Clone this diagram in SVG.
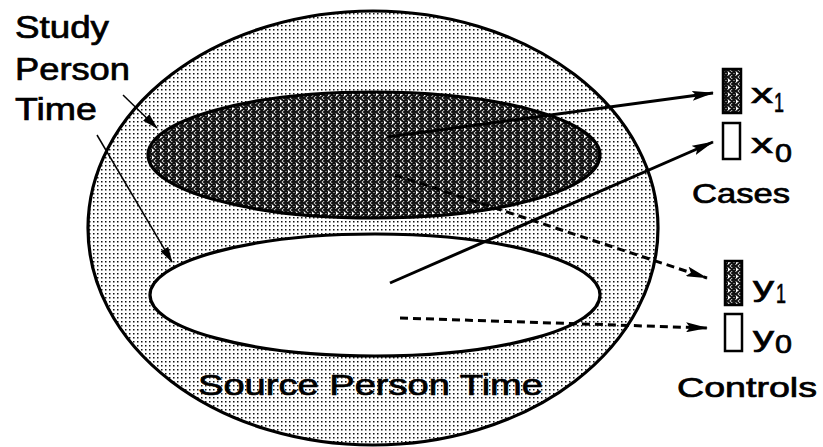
<svg xmlns="http://www.w3.org/2000/svg" width="823" height="447" viewBox="0 0 823 447">
<defs>
<pattern id="dots" width="4" height="4" patternUnits="userSpaceOnUse">
<rect width="4" height="4" fill="#fff"/>
<rect x="1" y="1" width="1.5" height="1.5" fill="#111"/>
</pattern>
<pattern id="hatch" width="8" height="7" patternUnits="userSpaceOnUse">
<rect width="8" height="7" fill="#fff"/>
<path d="M0,0 L8,7 M0,7 L8,0 M-4,3.5 L0,7 M4,0 L8,3.5 M-4,3.5 L0,0 M8,3.5 L4,7 M4,7 L8,10.5 M4,0 L8,-3.5 M0,-3.5 L4,0 M0,10.5 L4,7" stroke="#111" stroke-width="2" fill="none"/>
</pattern>
<marker id="bigHead" markerUnits="userSpaceOnUse" viewBox="0 0 22 10" refX="21" refY="5" markerWidth="22" markerHeight="10" orient="auto">
<path d="M0,0 L22,5 L0,10 L4,5 Z" fill="#000"/>
</marker>
<marker id="smallHead" markerUnits="userSpaceOnUse" viewBox="0 0 16 9" refX="15" refY="4.5" markerWidth="16" markerHeight="9" orient="auto">
<path d="M0,0 L16,4.5 L0,9 Z" fill="#000"/>
</marker>
</defs>
<style>
.lbl{font-family:"Liberation Sans",Arial,sans-serif;fill:#000;stroke:#000;stroke-width:0.7;}
.outline{stroke:#000;stroke-width:3.2;}
.solid{stroke:#000;stroke-width:3;fill:none;}
.dash{stroke:#000;stroke-width:3;fill:none;stroke-dasharray:8 5;}
.thin{stroke:#000;stroke-width:1.5;fill:none;}
.box{stroke:#000;stroke-width:2.5;}
</style>
<rect width="823" height="447" fill="#fff"/>
<g id="source-person-time">
<ellipse cx="373" cy="228" rx="285" ry="217" fill="url(#dots)" class="outline"/>
<text class="lbl" x="198" y="395" font-size="30" textLength="345" lengthAdjust="spacingAndGlyphs">Source Person Time</text>
</g>
<g id="exposed-person-time">
<ellipse cx="374" cy="155" rx="226" ry="63" fill="url(#hatch)" class="outline"/>
</g>
<g id="unexposed-person-time">
<ellipse cx="375" cy="295" rx="225" ry="61" fill="#fff" class="outline"/>
</g>
<g id="study-label">
<text class="lbl" x="15" y="38" font-size="31" textLength="94" lengthAdjust="spacingAndGlyphs">Study</text>
<text class="lbl" x="15" y="80" font-size="31" textLength="115" lengthAdjust="spacingAndGlyphs">Person</text>
<text class="lbl" x="15" y="120" font-size="31" textLength="82" lengthAdjust="spacingAndGlyphs">Time</text>
</g>
<g id="cases">
<rect x="723" y="69" width="18" height="44" fill="url(#hatch)" class="box"/>
<text class="lbl" x="751" y="103" font-size="28" textLength="22" lengthAdjust="spacingAndGlyphs">x</text>
<text class="lbl" x="774" y="112" font-size="28" textLength="10" lengthAdjust="spacingAndGlyphs">1</text>
<rect x="723" y="123" width="17" height="36" fill="#fff" class="box"/>
<text class="lbl" x="751" y="153" font-size="28" textLength="22" lengthAdjust="spacingAndGlyphs">x</text>
<text class="lbl" x="775" y="162" font-size="26" textLength="17" lengthAdjust="spacingAndGlyphs">0</text>
<text class="lbl" x="692" y="203" font-size="28" textLength="98" lengthAdjust="spacingAndGlyphs">Cases</text>
</g>
<g id="controls">
<rect x="725" y="261" width="17" height="44" fill="url(#hatch)" class="box"/>
<text class="lbl" x="753" y="296" font-size="28" textLength="21" lengthAdjust="spacingAndGlyphs">y</text>
<text class="lbl" x="776" y="303" font-size="28" textLength="10" lengthAdjust="spacingAndGlyphs">1</text>
<rect x="725" y="314" width="17" height="37" fill="#fff" class="box"/>
<text class="lbl" x="753" y="346" font-size="28" textLength="21" lengthAdjust="spacingAndGlyphs">y</text>
<text class="lbl" x="775" y="353" font-size="26" textLength="17" lengthAdjust="spacingAndGlyphs">0</text>
<text class="lbl" x="677" y="397" font-size="28" textLength="140" lengthAdjust="spacingAndGlyphs">Controls</text>
</g>
<g id="connectors">
<line x1="387" y1="137" x2="713" y2="93" class="solid" marker-end="url(#bigHead)"/>
<line x1="390" y1="283" x2="713" y2="142" class="solid" marker-end="url(#bigHead)"/>
<line x1="395" y1="175" x2="707" y2="278" class="dash" marker-end="url(#bigHead)"/>
<line x1="400" y1="318" x2="707" y2="328" class="dash" marker-end="url(#bigHead)"/>
<line x1="123" y1="95" x2="157" y2="128" class="thin" marker-end="url(#smallHead)"/>
<line x1="97" y1="135" x2="172" y2="262" class="thin" marker-end="url(#smallHead)"/>
</g>
</svg>
